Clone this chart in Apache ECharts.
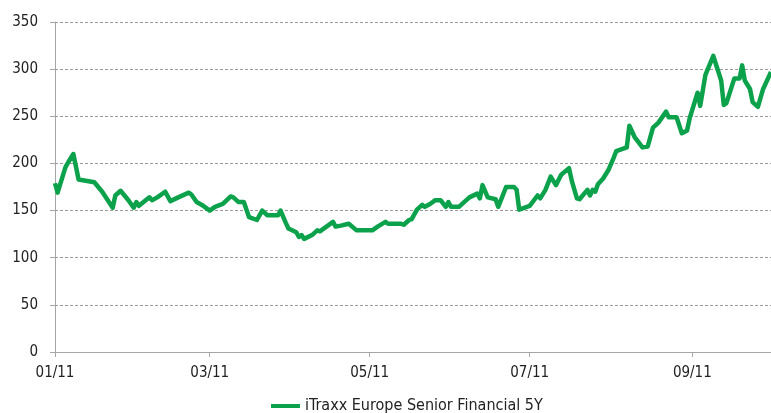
<!DOCTYPE html>
<html>
<head>
<meta charset="utf-8">
<script src="https://cdn.jsdelivr.net/npm/echarts@6/dist/echarts.min.js"></script>
<style>
html, body { margin: 0; padding: 0; background: #fff; }
#chart { width: 771px; height: 413px; }
</style>
</head>
<body>
<div id="chart"></div>
<script>
var seriesName = 'iTraxx Europe Senior Financial 5Y';
var dates = [
    '2011-01-01', '2011-01-02', '2011-01-05', '2011-01-06', '2011-01-08', '2011-01-10',
    '2011-01-16', '2011-01-19', '2011-01-23', '2011-01-24', '2011-01-26', '2011-01-29',
    '2011-01-31', '2011-02-01', '2011-02-02', '2011-02-06', '2011-02-07', '2011-02-09',
    '2011-02-12', '2011-02-14', '2011-02-17', '2011-02-21', '2011-02-22', '2011-02-24',
    '2011-02-26', '2011-03-01', '2011-03-03', '2011-03-06', '2011-03-09', '2011-03-10',
    '2011-03-12', '2011-03-14', '2011-03-16', '2011-03-19', '2011-03-21', '2011-03-23',
    '2011-03-27', '2011-03-28', '2011-03-30', '2011-03-31', '2011-04-03', '2011-04-04',
    '2011-04-05', '2011-04-06', '2011-04-09', '2011-04-11', '2011-04-12', '2011-04-17',
    '2011-04-18', '2011-04-20', '2011-04-23', '2011-04-26', '2011-05-02', '2011-05-04',
    '2011-05-07', '2011-05-08', '2011-05-13', '2011-05-14', '2011-05-16', '2011-05-17',
    '2011-05-19', '2011-05-21', '2011-05-22', '2011-05-24', '2011-05-26', '2011-05-28',
    '2011-05-30', '2011-05-31', '2011-06-01', '2011-06-04', '2011-06-06', '2011-06-08',
    '2011-06-11', '2011-06-12', '2011-06-13', '2011-06-15', '2011-06-18', '2011-06-19',
    '2011-06-22', '2011-06-25', '2011-06-26', '2011-06-27', '2011-07-01', '2011-07-04',
    '2011-07-05', '2011-07-07', '2011-07-09', '2011-07-11', '2011-07-13', '2011-07-16',
    '2011-07-17', '2011-07-19', '2011-07-20', '2011-07-23', '2011-07-24', '2011-07-25',
    '2011-07-26', '2011-07-27', '2011-07-29', '2011-07-31', '2011-08-02', '2011-08-03',
    '2011-08-07', '2011-08-08', '2011-08-10', '2011-08-13', '2011-08-15', '2011-08-17',
    '2011-08-19', '2011-08-21', '2011-08-22', '2011-08-23', '2011-08-26', '2011-08-28',
    '2011-08-30', '2011-08-31', '2011-09-03', '2011-09-04', '2011-09-06', '2011-09-09',
    '2011-09-12', '2011-09-13', '2011-09-14', '2011-09-17', '2011-09-19', '2011-09-20',
    '2011-09-21', '2011-09-23', '2011-09-24', '2011-09-26', '2011-09-28', '2011-10-01'
];
var values = [
    179, 169, 196, 201, 210, 183,
    180, 170, 153, 166, 171, 161,
    153, 159, 155, 164, 161, 164,
    170, 160, 164, 169, 167, 159,
    156, 150, 154, 157, 165, 164,
    159, 159, 143, 140, 150, 145,
    145, 150, 137, 131, 127, 122,
    124, 120, 124, 129, 128, 138,
    133, 134, 136, 129, 129, 133,
    138, 136, 136, 135, 140, 141,
    151, 156, 154, 157, 161, 161,
    154, 159, 154, 154, 159, 164,
    168, 163, 177, 164, 162, 154,
    175, 175, 172, 151, 155, 166,
    163, 172, 186, 177, 188, 195,
    182, 163, 162, 172, 166, 172,
    170, 178, 184, 193, 206, 213,
    217, 240, 228, 217, 218, 238,
    243, 251, 255, 249, 249, 232,
    235, 248, 275, 261, 294, 314,
    288, 262, 264, 290, 290, 304,
    288, 279, 265, 260, 279, 297
];
var tickDates = ['2011-01-01', '2011-03-01', '2011-05-01', '2011-07-01', '2011-09-01'];

// dates -> day number counted from 1 Jan 2011
var DAY = 24 * 3600 * 1000;
var start = Date.UTC(2011, 0, 1);
function toDay(s) {
    var p = s.split('-');
    return Math.round((Date.UTC(+p[0], +p[1] - 1, +p[2]) - start) / DAY);
}
function dayLabel(n) {
    var d = new Date(start + n * DAY);
    var m = d.getUTCMonth() + 1;
    return (m < 10 ? '0' + m : m) + '/' + String(d.getUTCFullYear()).slice(2);
}

var tickDays = tickDates.map(toDay);
var lineData = dates.map(function (d, i) {
    return [toDay(d), values[i]];
});

var font = '"Liberation Sans Narrow", "DejaVu Sans Condensed", sans-serif';
var chart = echarts.init(document.getElementById('chart'));
chart.setOption({
    animation: false,
    grid: { left: 55, right: 0, top: 22, bottom: 61 },
    legend: {
        data: [seriesName],
        left: 266,
        top: 393,
        icon: 'rect',
        itemWidth: 29,
        itemHeight: 4,
        textStyle: { color: '#222', fontSize: 16, fontFamily: font }
    },
    xAxis: {
        type: 'value',
        min: 0,
        max: toDay('2011-10-01'),
        axisLine: { show: true, lineStyle: { color: '#a6a6a6', width: 1 } },
        axisTick: { show: true, customValues: tickDays, length: 5, lineStyle: { color: '#a6a6a6' } },
        axisLabel: {
            customValues: tickDays,
            margin: 14,
            color: '#222',
            fontSize: 15,
            fontFamily: font,
            formatter: function (val) {
                return dayLabel(val);
            }
        },
        splitLine: { show: false }
    },
    yAxis: {
        type: 'value',
        min: 0,
        max: 350,
        interval: 50,
        axisLine: { show: true, lineStyle: { color: '#a6a6a6', width: 1 } },
        axisTick: { show: true, length: 5, lineStyle: { color: '#a6a6a6' } },
        axisLabel: { margin: 17, color: '#222', fontSize: 15, fontFamily: font },
        splitLine: { lineStyle: { color: '#9a9a9a', type: [3, 2], width: 1 } }
    },
    series: [{
        name: seriesName,
        type: 'line',
        data: lineData,
        showSymbol: false,
        color: '#0ca14b',
        lineStyle: { width: 4.5, color: '#0ca14b', join: 'round' }
    }]
});
</script>
</body>
</html>
